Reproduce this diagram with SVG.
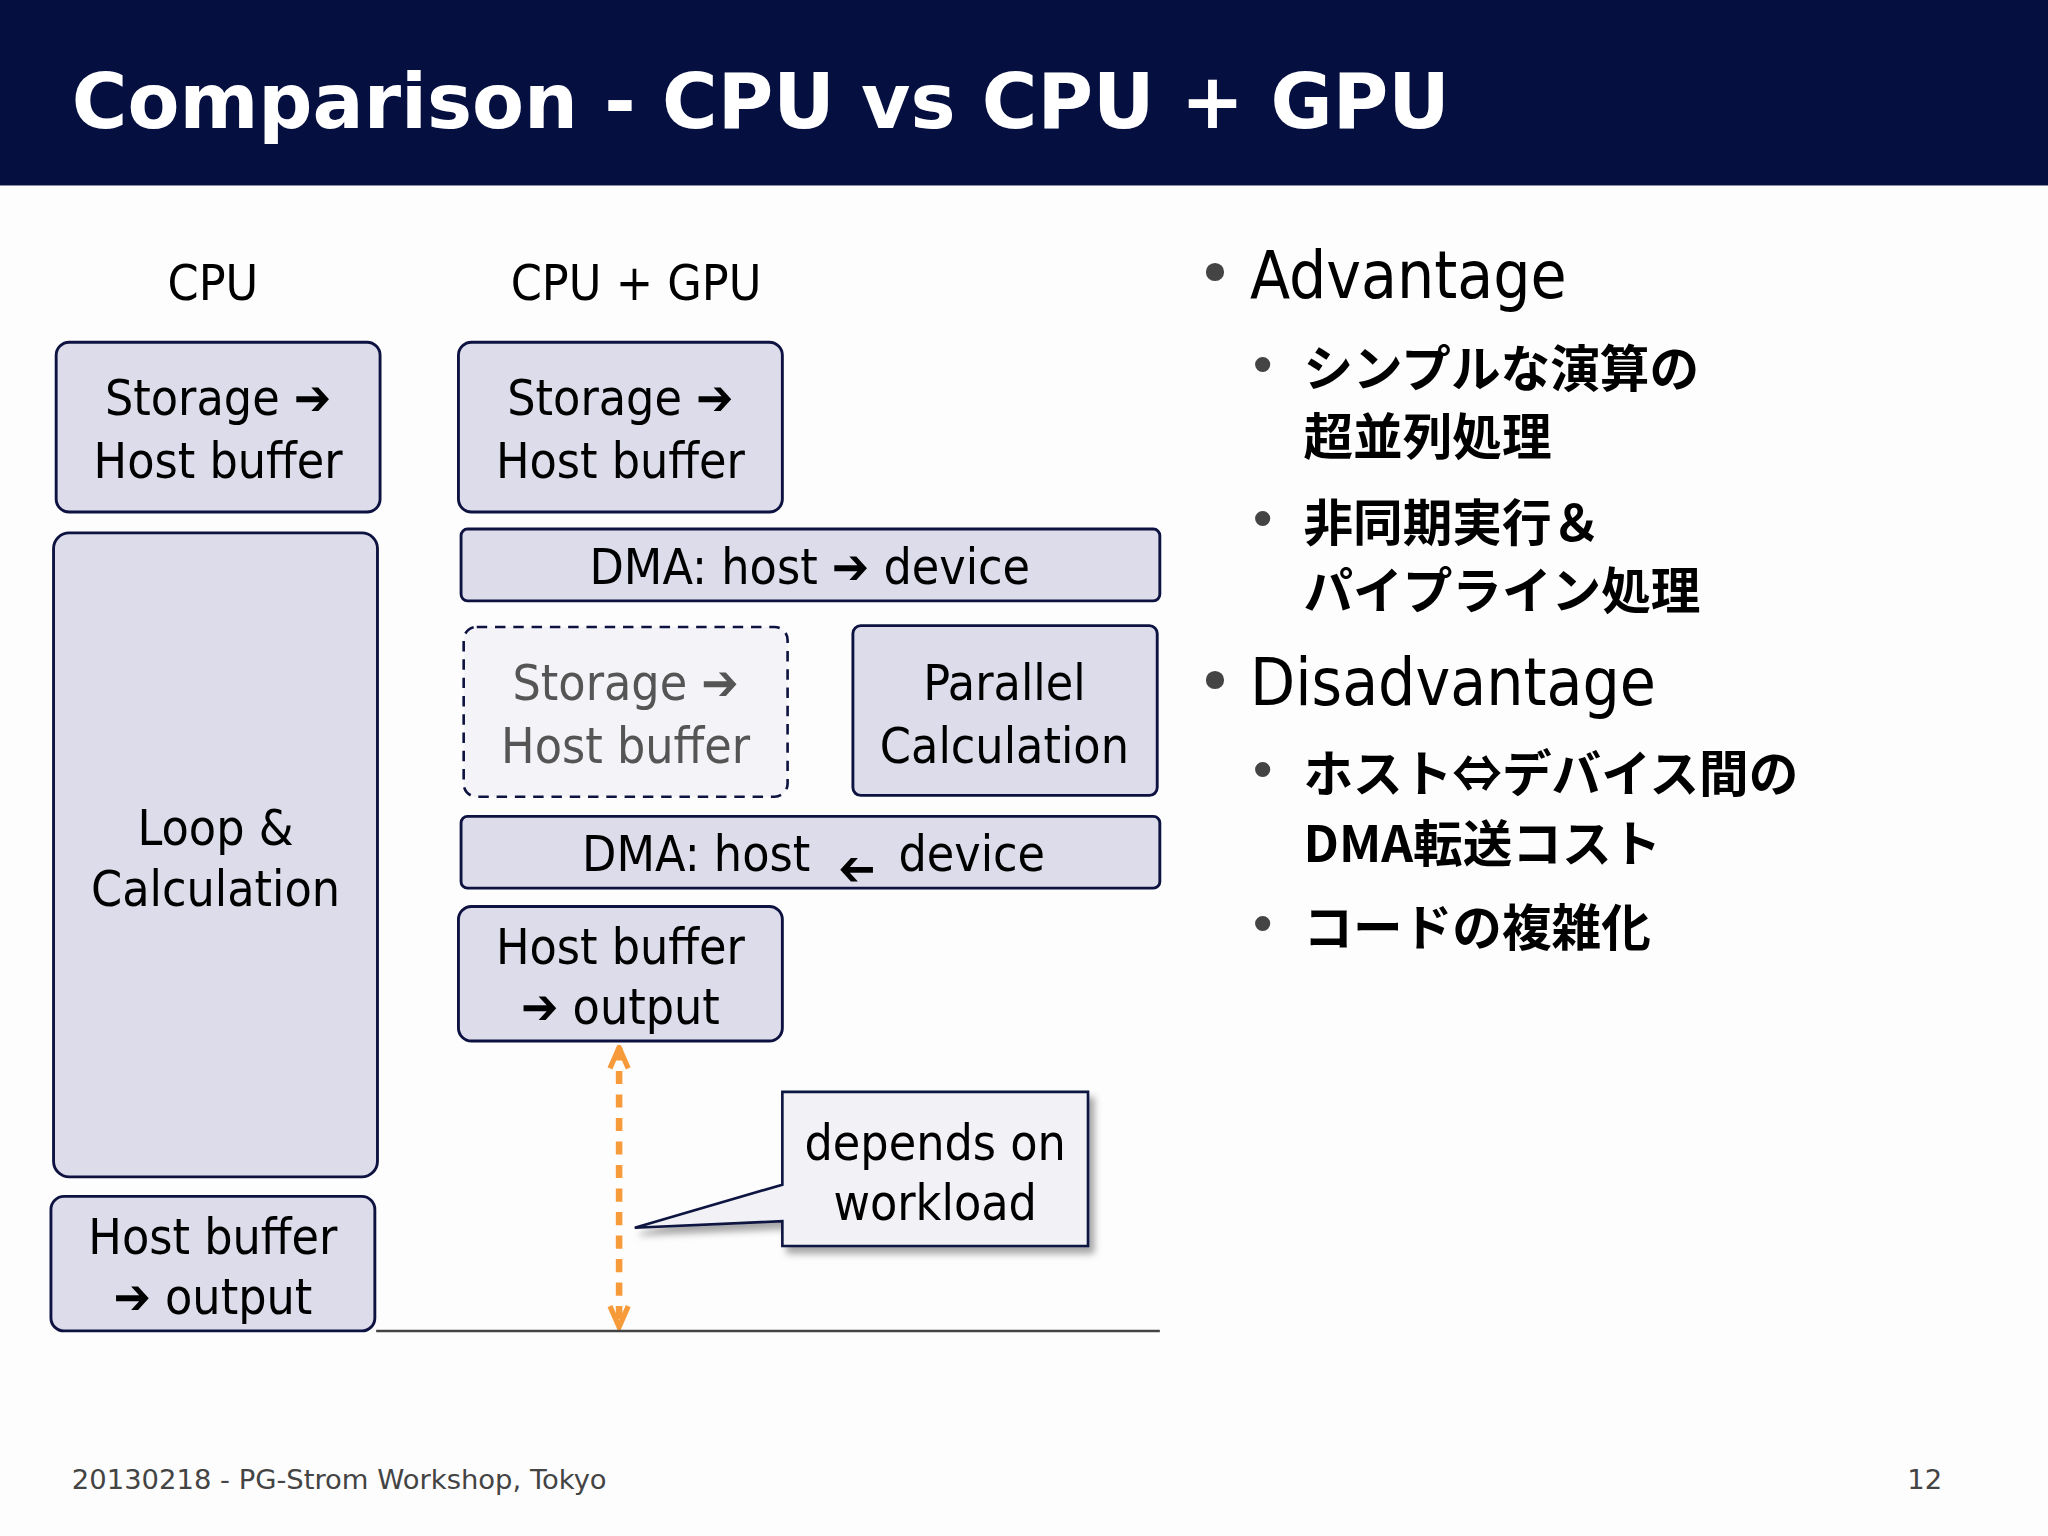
<svg xmlns="http://www.w3.org/2000/svg" width="2048" height="1536" viewBox="0 0 2048 1536">
<defs>
<style>
.b{fill:#dcdcea;stroke:#0d1240;stroke-width:2.2}
.t{font-family:"DejaVu Sans Condensed","DejaVu Sans",sans-serif;font-size:38px;fill:#000;text-anchor:middle}
.j{font-family:"Noto Sans CJK JP",sans-serif;font-weight:bold;font-size:38px;fill:#000}
.bl{font-family:"DejaVu Sans",sans-serif;fill:#444}
.h{font-family:"DejaVu Sans Condensed","DejaVu Sans",sans-serif;font-size:50px;fill:#000}
</style>
<filter id="sh" x="-10%" y="-10%" width="130%" height="130%"><feDropShadow dx="4" dy="5" stdDeviation="3" flood-color="#000" flood-opacity="0.35"/></filter>
<marker id="ah" viewBox="0 0 20 20" refX="18" refY="10" markerWidth="20" markerHeight="20" markerUnits="userSpaceOnUse" orient="auto-start-reverse"><path d="M2,3 L18,10 L2,17" fill="none" stroke="#f79a3a" stroke-width="4"/></marker>
</defs>
<rect width="2048" height="1536" fill="#fdfdfd"/>
<g transform="scale(1.30612)">
<rect x="0" y="0" width="1568" height="142" fill="#050f40"/>
<text x="55" y="98" font-family="DejaVu Sans" font-weight="bold" font-size="58" fill="#fff" textLength="1055">Comparison - CPU vs CPU + GPU</text>
<text class="t" x="163" y="230">CPU</text>
<text class="t" x="487" y="230">CPU + GPU</text>
<g id="cpu-storage"><rect class="b" x="43" y="262" width="248" height="130" rx="10"/><text class="t" x="167" y="318">Storage ➔</text><text class="t" x="167" y="366">Host buffer</text></g>
<g id="cpu-loop"><rect class="b" x="41" y="408" width="248" height="493" rx="12"/><text class="t" x="165" y="647">Loop &amp;</text><text class="t" x="165" y="694">Calculation</text></g>
<g id="cpu-output"><rect class="b" x="39" y="916" width="248" height="103" rx="10"/><text class="t" x="163" y="960">Host buffer</text><text class="t" x="163" y="1006">➔ output</text></g>
<g id="gpu-storage"><rect class="b" x="351" y="262" width="248" height="130" rx="10"/><text class="t" x="475" y="318">Storage ➔</text><text class="t" x="475" y="366">Host buffer</text></g>
<g id="dma1"><rect class="b" x="353" y="405" width="535" height="55" rx="5"/><text class="t" x="620" y="447">DMA: host ➔ device</text></g>
<g id="gpu-storage2"><rect x="355" y="480" width="248" height="130" rx="10" fill="#f4f4f8" stroke="#0d1240" stroke-width="2" stroke-dasharray="8,6"/><text class="t" x="479" y="536" style="fill:#555">Storage ➔</text><text class="t" x="479" y="584" style="fill:#555">Host buffer</text></g>
<g id="parallel"><rect class="b" x="653" y="479" width="233" height="130" rx="6"/><text class="t" x="769" y="536">Parallel</text><text class="t" x="769" y="584">Calculation</text></g>
<g id="dma2"><rect class="b" x="353" y="625" width="535" height="55" rx="5"/><text class="t" x="533" y="667">DMA: host</text><text class="t" x="656" y="654" transform="rotate(180 656 654)">➔</text><text class="t" x="744" y="667">device</text></g>
<g id="gpu-output"><rect class="b" x="351" y="694" width="248" height="103" rx="10"/><text class="t" x="475" y="738">Host buffer</text><text class="t" x="475" y="784">➔ output</text></g>
<g id="connectors">
<line x1="474" y1="802" x2="474" y2="1016" stroke="#f79a3a" stroke-width="5" stroke-dasharray="10,8" marker-start="url(#ah)" marker-end="url(#ah)"/>
<line x1="288" y1="1019" x2="888" y2="1019" stroke="#444" stroke-width="2"/>
</g>
<g id="callout" filter="url(#sh)"><path d="M599,836 H833 V954 H599 V935 L486,940 L599,907 Z" fill="#f2f2f6" stroke="#0d1240" stroke-width="2"/></g>
<text class="t" x="716" y="888">depends on</text><text class="t" x="716" y="934">workload</text>
<text class="bl" x="916" y="226" font-size="48">•</text><text class="h" x="957" y="228">Advantage</text>
<text class="bl" x="955" y="294" font-size="40">•</text><text class="j" x="998" y="296">シンプルな演算の</text><text class="j" x="998" y="348">超並列処理</text>
<text class="bl" x="955" y="412" font-size="40">•</text><text class="j" x="998" y="414">非同期実行＆</text><text class="j" x="998" y="466">パイプライン処理</text>
<text class="bl" x="916" y="538" font-size="48">•</text><text class="h" x="957" y="540">Disadvantage</text>
<text class="bl" x="955" y="604" font-size="40">•</text><text class="j" x="998" y="606">ホスト⇔デバイス間の</text><text class="j" x="998" y="660">DMA転送コスト</text>
<text class="bl" x="955" y="722" font-size="40">•</text><text class="j" x="998" y="724">コードの複雑化</text>
<text x="55" y="1140" font-family="DejaVu Sans" font-size="21" fill="#444">20130218 - PG-Strom Workshop, Tokyo</text>
<text x="1487" y="1140" font-family="DejaVu Sans" font-size="21" fill="#444" text-anchor="end">12</text>
</g>
</svg>
